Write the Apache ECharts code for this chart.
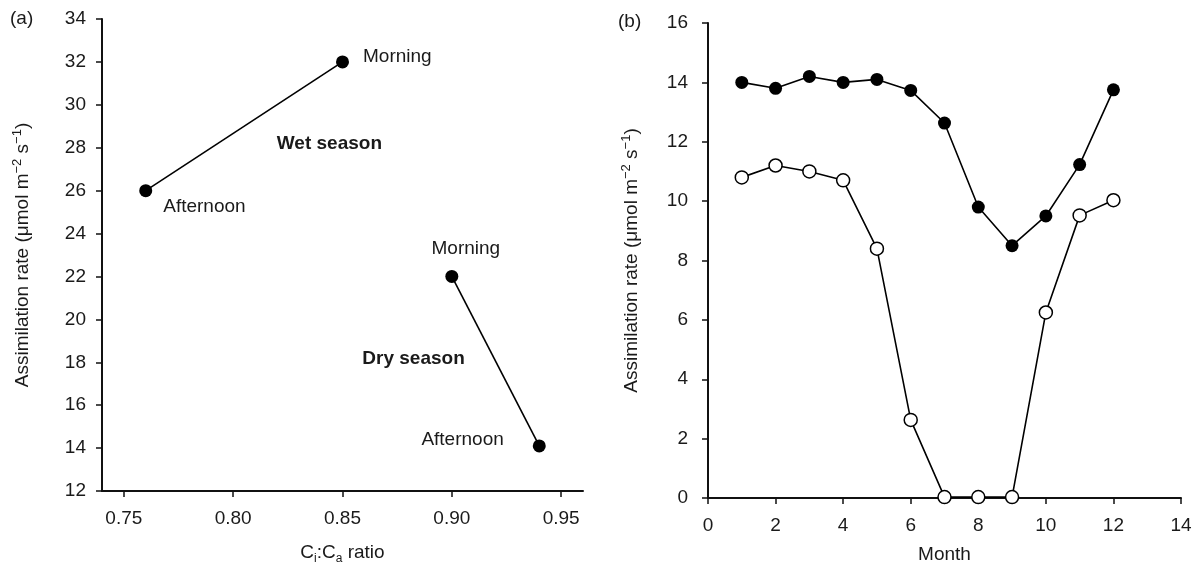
<!DOCTYPE html>
<html>
<head>
<meta charset="utf-8">
<script src="https://cdn.jsdelivr.net/npm/echarts@6/dist/echarts.min.js"></script>
<style>
html,body{margin:0;padding:0;background:#fff;}
#chart{width:1201px;height:570px;}
</style>
</head>
<body>
<div id="chart"></div>
<script>
// Panel (a)
const wetCiCa = [0.76, 0.85];
const wetRate = [26, 32];
const wetLabels = ['Afternoon', 'Morning'];
const dryCiCa = [0.90, 0.94];
const dryRate = [22, 14.1];
const dryLabels = ['Morning', 'Afternoon'];
const xTicksA = [0.75, 0.80, 0.85, 0.90, 0.95];
const seasonNames = ['Wet season', 'Dry season'];
const seasonAnchorX = [0.844, 0.8825];
const seasonAnchorY = [28.2, 18.17];
// Panel (b)
const months = [1, 2, 3, 4, 5, 6, 7, 8, 9, 10, 11, 12];
const filledRate = [14.0, 13.8, 14.2, 14.0, 14.1, 13.73, 12.63, 9.8, 8.5, 9.5, 11.23, 13.75];
const openRate = [10.8, 11.2, 11.0, 10.7, 8.4, 2.63, 0.03, 0.03, 0.03, 6.25, 9.52, 10.03];

const FONT = 'Liberation Sans';
const FS = 19;
const TXT = '#1a1a1a';
const axisLine = {show: true, lineStyle: {color: '#111', width: 2}};
const axisTick = {show: true, inside: false, length: 6, lineStyle: {color: '#111', width: 1.5}};
const lbl = {color: TXT, fontFamily: FONT, fontSize: FS};

const chart = echarts.init(document.getElementById('chart'), null, {renderer: 'canvas'});

const yName = '{n|Assimilation rate (μmol m}{p|−2}{n| s}{p|−1}{n|)}';
const yRich = {
  n: {fontFamily: FONT, fontSize: FS, color: TXT, lineHeight: 24, verticalAlign: 'middle'},
  p: {fontFamily: FONT, fontSize: 13, color: TXT, lineHeight: 13, verticalAlign: 'top'}
};

function pointData(xs, ys, names, labelCfg) {
  return xs.map((x, i) => ({value: [x, ys[i]], label: Object.assign({show: true, formatter: names[i]}, labelCfg[i])}));
}

const wetLabelCfg = [
  {position: 'right', offset: [6, 16]},
  {position: 'right', offset: [9, -5]}
];
const dryLabelCfg = [
  {position: 'top', offset: [14, -7]},
  {position: 'left', offset: [-24, -6]}
];

const pointLabelStyle = {color: TXT, fontFamily: FONT, fontSize: FS};
const seasonLabel = {show: true, position: 'inside', formatter: '{b}', color: TXT, fontFamily: FONT, fontSize: FS, fontWeight: 'bold'};

chart.setOption({
  animation: false,
  backgroundColor: '#fff',
  textStyle: {fontFamily: FONT},
  graphic: [
    {type: 'text', left: 10, top: 9, style: {text: '(a)', fontFamily: FONT, fontSize: FS, fill: TXT}},
    {type: 'text', left: 618, top: 12, style: {text: '(b)', fontFamily: FONT, fontSize: FS, fill: TXT}}
  ],
  grid: [
    {left: 102, top: 19, width: 481, height: 478, containLabel: false},
    {left: 708, top: 23, width: 473, height: 475, containLabel: false}
  ],
  xAxis: [
    {
      gridIndex: 0, type: 'value', min: 0.74, max: 0.96,
      axisLine: axisLine, axisTick: Object.assign({customValues: xTicksA}, axisTick),
      axisLabel: Object.assign({customValues: xTicksA, margin: 18, formatter: v => v.toFixed(2)}, lbl),
      splitLine: {show: false},
      name: '{n|C}{s|i}{n|:C}{s|a}{n| ratio}', nameLocation: 'middle', nameGap: 50,
      nameTextStyle: {rich: {
        n: {fontFamily: FONT, fontSize: FS, color: TXT, lineHeight: 24, verticalAlign: 'middle'},
        s: {fontFamily: FONT, fontSize: 12, color: TXT, lineHeight: 12, verticalAlign: 'bottom'}
      }}
    },
    {
      gridIndex: 1, type: 'value', min: 0, max: 14, interval: 2,
      axisLine: axisLine, axisTick: axisTick,
      axisLabel: Object.assign({margin: 18}, lbl),
      splitLine: {show: false},
      name: 'Month', nameLocation: 'middle', nameGap: 47,
      nameTextStyle: {fontFamily: FONT, fontSize: FS, color: TXT}
    }
  ],
  yAxis: [
    {
      gridIndex: 0, type: 'value', min: 12, max: 34, interval: 2,
      axisLine: axisLine, axisTick: axisTick,
      axisLabel: Object.assign({margin: 16}, lbl),
      splitLine: {show: false},
      name: yName, nameLocation: 'middle', nameGap: 67, nameRotate: 90,
      nameTextStyle: {rich: yRich}
    },
    {
      gridIndex: 1, type: 'value', min: 0, max: 16, interval: 2,
      axisLine: axisLine, axisTick: axisTick,
      axisLabel: Object.assign({margin: 20}, lbl),
      splitLine: {show: false},
      name: yName, nameLocation: 'middle', nameGap: 64, nameRotate: 90,
      nameTextStyle: {rich: yRich}
    }
  ],
  series: [
    {
      type: 'line', xAxisIndex: 0, yAxisIndex: 0,
      data: pointData(wetCiCa, wetRate, wetLabels, wetLabelCfg),
      symbol: 'circle', symbolSize: 13,
      itemStyle: {color: '#000'}, lineStyle: {color: '#000', width: 1.6},
      label: pointLabelStyle,
      markPoint: {
        symbol: 'circle', symbolSize: 0, label: seasonLabel,
        data: [{name: seasonNames[0], coord: [seasonAnchorX[0], seasonAnchorY[0]]}]
      }
    },
    {
      type: 'line', xAxisIndex: 0, yAxisIndex: 0,
      data: pointData(dryCiCa, dryRate, dryLabels, dryLabelCfg),
      symbol: 'circle', symbolSize: 13,
      itemStyle: {color: '#000'}, lineStyle: {color: '#000', width: 1.6},
      label: pointLabelStyle,
      markPoint: {
        symbol: 'circle', symbolSize: 0, label: seasonLabel,
        data: [{name: seasonNames[1], coord: [seasonAnchorX[1], seasonAnchorY[1]]}]
      }
    },
    {
      type: 'line', xAxisIndex: 1, yAxisIndex: 1,
      data: months.map((m, i) => [m, openRate[i]]),
      symbol: 'circle', symbolSize: 13, showAllSymbol: true,
      itemStyle: {color: '#fff', borderColor: '#000', borderWidth: 1.5},
      lineStyle: {color: '#000', width: 1.6}
    },
    {
      type: 'line', xAxisIndex: 1, yAxisIndex: 1,
      data: months.map((m, i) => [m, filledRate[i]]),
      symbol: 'circle', symbolSize: 13, showAllSymbol: true,
      itemStyle: {color: '#000'},
      lineStyle: {color: '#000', width: 1.6}
    }
  ]
});
</script>
</body>
</html>
